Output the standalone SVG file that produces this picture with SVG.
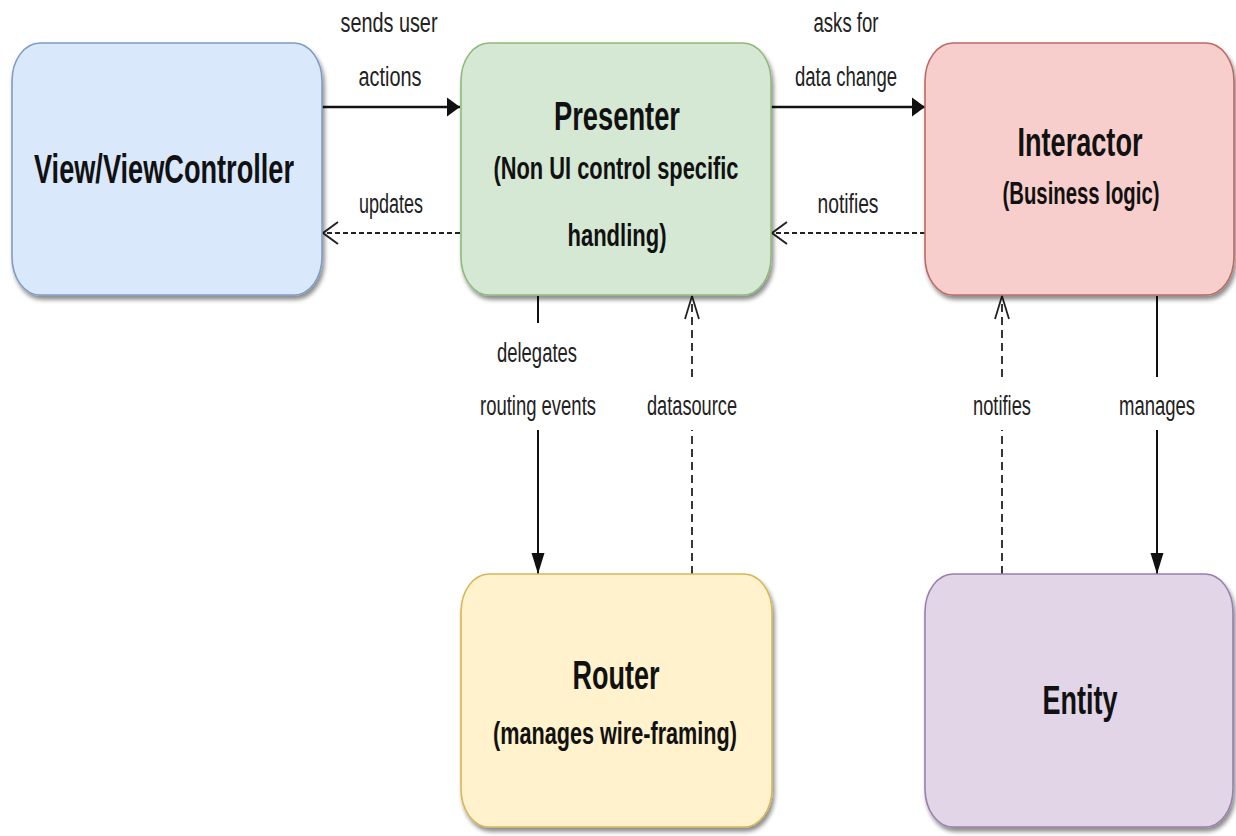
<svg xmlns="http://www.w3.org/2000/svg" width="1236" height="836" viewBox="0 0 1236 836">
<style>
.box{stroke-width:1.6;filter:url(#sh)}
.title{font-family:"Liberation Sans",Arial,sans-serif;font-weight:bold;font-size:40px;fill:#111;text-anchor:middle}
.sub{font-family:"Liberation Sans",Arial,sans-serif;font-weight:bold;font-size:31px;fill:#111;text-anchor:middle}
.lbl{font-family:"Liberation Sans",Arial,sans-serif;font-size:27px;fill:#222;text-anchor:middle}
.solid{fill:none;stroke:#111}
.dash{fill:none;stroke:#222}
</style>
<defs>
<filter id="sh" x="-10%" y="-10%" width="120%" height="125%">
<feDropShadow dx="2" dy="4" stdDeviation="2" flood-color="#000" flood-opacity="0.45"/>
</filter>
<marker id="solidH" markerUnits="userSpaceOnUse" markerWidth="14" markerHeight="20" refX="13" refY="10" orient="auto" overflow="visible"><path d="M0,0.5 L13,10 L0,19.5 Z" fill="#111" stroke="none"/></marker>
<marker id="solidV" markerUnits="userSpaceOnUse" markerWidth="22" markerHeight="14" refX="21" refY="7" orient="auto" overflow="visible"><path d="M0,0.5 L21,7 L0,13.5 Z" fill="#111" stroke="none"/></marker>
<marker id="openH" markerUnits="userSpaceOnUse" markerWidth="17" markerHeight="26" refX="16" refY="13" orient="auto" overflow="visible"><path d="M1,2 L16,13 L1,24" fill="none" stroke="#222" stroke-width="2" stroke-dasharray="none"/></marker>
<marker id="openV" markerUnits="userSpaceOnUse" markerWidth="25" markerHeight="16" refX="24" refY="8" orient="auto" overflow="visible"><path d="M1,1 L24,8 L1,15" fill="none" stroke="#222" stroke-width="1.8" stroke-dasharray="none"/></marker>
</defs>
<rect width="1236" height="836" fill="#fff"/>

<g id="connectors">
<path class="solid" d="M322,107 H460" stroke-width="2.5" marker-end="url(#solidH)"/>
<path class="dash" d="M460,233 H323" stroke-width="2.2" stroke-dasharray="5 3" marker-end="url(#openH)"/>
<path class="solid" d="M771,107 H925" stroke-width="2.5" marker-end="url(#solidH)"/>
<path class="dash" d="M925,233 H772" stroke-width="2.2" stroke-dasharray="5 3" marker-end="url(#openH)"/>
<path class="solid" d="M538,296 V323 M538,430 V574" stroke-width="2" marker-end="url(#solidV)"/>
<path class="dash" d="M692,574 V430 M692,377 V296" stroke-width="1.8" stroke-dasharray="8 5" marker-end="url(#openV)"/>
<path class="dash" d="M1002,574 V430 M1002,377 V296" stroke-width="1.8" stroke-dasharray="8 5" marker-end="url(#openV)"/>
<path class="solid" d="M1157,296 V377 M1157,430 V574" stroke-width="2" marker-end="url(#solidV)"/>
<text class="lbl" x="389" y="32" textLength="97" lengthAdjust="spacingAndGlyphs">sends user</text>
<text class="lbl" x="390" y="86" textLength="63" lengthAdjust="spacingAndGlyphs">actions</text>
<text class="lbl" x="391" y="213" textLength="64" lengthAdjust="spacingAndGlyphs">updates</text>
<text class="lbl" x="846" y="32" textLength="65" lengthAdjust="spacingAndGlyphs">asks for</text>
<text class="lbl" x="846" y="86" textLength="102" lengthAdjust="spacingAndGlyphs">data change</text>
<text class="lbl" x="848" y="213" textLength="61" lengthAdjust="spacingAndGlyphs">notifies</text>
<text class="lbl" x="537" y="362" textLength="80" lengthAdjust="spacingAndGlyphs">delegates</text>
<text class="lbl" x="538" y="415" textLength="116" lengthAdjust="spacingAndGlyphs">routing events</text>
<text class="lbl" x="692" y="415" textLength="90" lengthAdjust="spacingAndGlyphs">datasource</text>
<text class="lbl" x="1002" y="415" textLength="58" lengthAdjust="spacingAndGlyphs">notifies</text>
<text class="lbl" x="1157" y="415" textLength="76" lengthAdjust="spacingAndGlyphs">manages</text>
</g>

<g id="view">
<rect class="box" x="12" y="43" width="310" height="252" rx="28" ry="38" fill="#dae8fc" stroke="#7f9cc6"/>
<text class="title" x="164" y="183" textLength="260" lengthAdjust="spacingAndGlyphs">View/ViewController</text>
</g>

<g id="presenter">
<rect class="box" x="461" y="43" width="310" height="252" rx="28" ry="38" fill="#d5e8d4" stroke="#8fb97a"/>
<text class="title" x="617" y="130" textLength="126" lengthAdjust="spacingAndGlyphs">Presenter</text>
<text class="sub" x="616" y="179" textLength="245" lengthAdjust="spacingAndGlyphs">(Non UI control specific</text>
<text class="sub" x="617" y="246" textLength="99" lengthAdjust="spacingAndGlyphs">handling)</text>
</g>

<g id="interactor">
<rect class="box" x="925" y="43" width="309" height="252" rx="28" ry="38" fill="#f8cecc" stroke="#bb6a66"/>
<text class="title" x="1080" y="156" textLength="125" lengthAdjust="spacingAndGlyphs">Interactor</text>
<text class="sub" x="1081" y="204" textLength="157" lengthAdjust="spacingAndGlyphs">(Business logic)</text>
</g>

<g id="router">
<rect class="box" x="461" y="574" width="311" height="253" rx="28" ry="38" fill="#fff2cc" stroke="#d6b656"/>
<text class="title" x="616" y="689" textLength="87" lengthAdjust="spacingAndGlyphs">Router</text>
<text class="sub" x="615" y="744" textLength="244" lengthAdjust="spacingAndGlyphs">(manages wire-framing)</text>
</g>

<g id="entity">
<rect class="box" x="925" y="574" width="308" height="253" rx="28" ry="38" fill="#e1d5e7" stroke="#9a7fab"/>
<text class="title" x="1080" y="714" textLength="75" lengthAdjust="spacingAndGlyphs">Entity</text>
</g>
</svg>
